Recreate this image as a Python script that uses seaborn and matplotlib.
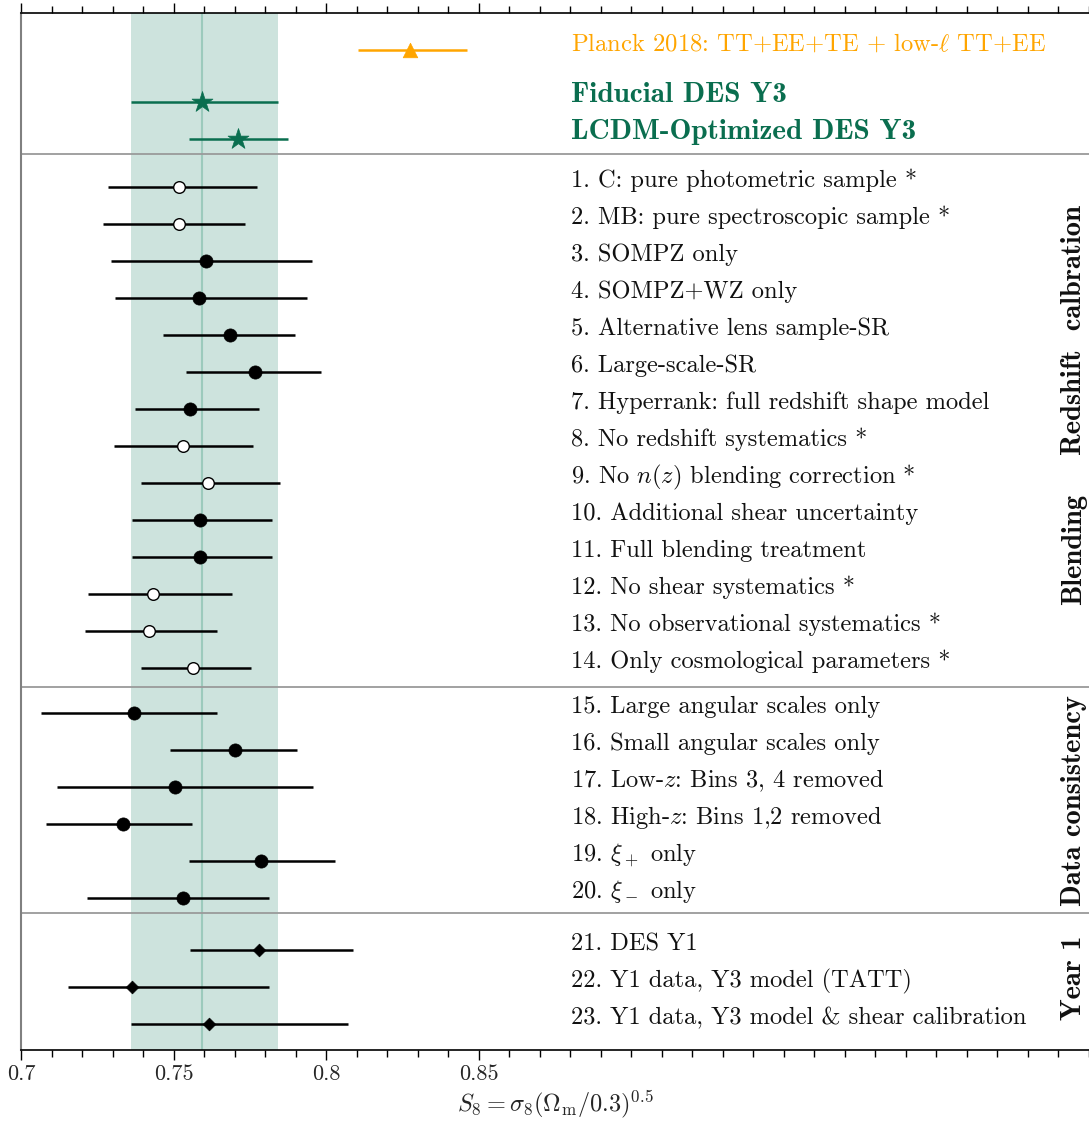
import numpy as np
import pandas as pd
import matplotlib
matplotlib.use('Agg')
import matplotlib.pyplot as plt
from matplotlib.ticker import MultipleLocator
import seaborn as sns

# --- data -------------------------------------------------------------
labels = [
    "1. C: pure photometric sample *",
    "2. MB: pure spectroscopic sample *",
    "3. SOMPZ only",
    "4. SOMPZ+WZ only",
    "5. Alternative lens sample-SR",
    "6. Large-scale-SR",
    "7. Hyperrank: full redshift shape model",
    "8. No redshift systematics *",
    "9. No $n(z)$ blending correction *",
    "10. Additional shear uncertainty",
    "11. Full blending treatment",
    "12. No shear systematics *",
    "13. No observational systematics *",
    "14. Only cosmological parameters *",
    "15. Large angular scales only",
    "16. Small angular scales only",
    "17. Low-$z$: Bins 3, 4 removed",
    "18. High-$z$: Bins 1,2 removed",
    "19. $\\xi_+$ only",
    "20. $\\xi_-$ only",
    "21. DES Y1",
    "22. Y1 data, Y3 model (TATT)",
    "23. Y1 data, Y3 model & shear calibration",
]
s8_mean = [0.7518, 0.7518, 0.7604, 0.7582, 0.7684, 0.7766, 0.7551, 0.7531,
           0.7613, 0.7585, 0.7585, 0.7432, 0.7418, 0.7564,
           0.7370, 0.7699, 0.7505, 0.7334, 0.7786, 0.7529,
           0.7780, 0.7361, 0.7615]
s8_low = [0.7283, 0.7268, 0.7292, 0.7307, 0.7464, 0.7541, 0.7372, 0.7304,
          0.7393, 0.7362, 0.7362, 0.7217, 0.7208, 0.7393,
          0.7063, 0.7486, 0.7116, 0.7080, 0.7549, 0.7216,
          0.7552, 0.7152, 0.7358]
s8_high = [0.7772, 0.7732, 0.7954, 0.7937, 0.7896, 0.7982, 0.7780, 0.7759,
           0.7849, 0.7820, 0.7820, 0.7691, 0.7641, 0.7751,
           0.7642, 0.7905, 0.7955, 0.7559, 0.8028, 0.7812,
           0.8088, 0.7812, 0.8069]
# open = run without some systematics (*), filled = normal, diamond = Y1
kinds = ["open", "open", "filled", "filled", "filled", "filled", "filled", "open",
         "open", "filled", "filled", "open", "open", "open",
         "filled", "filled", "filled", "filled", "filled", "filled",
         "diamond", "diamond", "diamond"]
group_names = ["Redshift  calbration", "Blending", "Data consistency", "Year 1"]
group_sizes = [14, 6, 3]

planck = {"label": "Planck 2018: TT+EE+TE + low-$\\ell$ TT+EE", "mean": 0.8273, "low": 0.8103, "high": 0.8460}
fiducial = {"label": "Fiducial DES Y3", "mean": 0.7593, "low": 0.7358, "high": 0.7841}
optimized = {"label": "LCDM-Optimized DES Y3", "mean": 0.7711, "low": 0.7550, "high": 0.7875}

tick_vals = [0.7, 0.75, 0.8, 0.85]
tick_labels = ["0.7", "0.75", "0.8", "0.85"]

# --- layout -----------------------------------------------------------
extra_gap = [0.216, 0.414]
row_y = []
y = 0.0
for g, n in enumerate(group_sizes):
    if g > 0:
        y += extra_gap[g - 1]
    for i in range(n):
        row_y.append(y)
        y += 1
row_y = np.array(row_y)
head_y = [-3.703, -2.308, -1.308]
sep_y = [-0.911, row_y[14] - 0.708, row_y[20] - 1.0]
group_label_y = [3.87, 9.79, 16.58, 21.36]

df = pd.DataFrame({"label": labels, "s8": s8_mean, "lo": s8_low, "hi": s8_high,
                   "kind": kinds, "y": row_y})

sns.set_theme(style="ticks")
plt.rcParams["font.family"] = ["cmr10", "DejaVu Serif"]
plt.rcParams["mathtext.fontset"] = "cm"
plt.rcParams["axes.unicode_minus"] = False
plt.rcParams["axes.formatter.use_mathtext"] = True

teal = "#0a6e4f"
orange = "#ffa500"
bold_family = ["cmb10", "DejaVu Serif"]

fig = plt.figure(figsize=(10.89, 11.21), dpi=100)
ax = fig.add_axes([0.0197, 0.0633, 0.9803, 0.9251])

# fiducial band
ax.axvspan(fiducial["low"], fiducial["high"], color="#cde3dd", lw=0, zorder=0)
ax.axvline(fiducial["mean"], color="#9ccabc", lw=1.5, zorder=0.5)

for sy in sep_y:
    ax.axhline(sy, color="#9a9a9a", lw=1.3, zorder=1)

# error bars for the variations
ax.errorbar(df["s8"], df["y"], xerr=[df["s8"] - df["lo"], df["hi"] - df["s8"]],
            fmt="none", ecolor="black", elinewidth=1.8, capsize=0, zorder=2)

sns.scatterplot(data=df[df["kind"] == "filled"], x="s8", y="y", marker="o", s=90,
                color="black", edgecolor="black", linewidth=0.5, ax=ax, zorder=3)
sns.scatterplot(data=df[df["kind"] == "open"], x="s8", y="y", marker="o", s=70,
                color="white", edgecolor="black", linewidth=1.0, ax=ax, zorder=3)
sns.scatterplot(data=df[df["kind"] == "diamond"], x="s8", y="y", marker="D", s=42,
                color="black", edgecolor="black", linewidth=0.5, ax=ax, zorder=3)

# header entries
for entry, yy, col, mk, sz in [(planck, head_y[0], orange, "^", 110),
                               (fiducial, head_y[1], teal, "*", 250),
                               (optimized, head_y[2], teal, "*", 250)]:
    ax.errorbar([entry["mean"]], [yy], xerr=[[entry["mean"] - entry["low"]], [entry["high"] - entry["mean"]]],
                fmt="none", ecolor=col, elinewidth=1.8, capsize=0, zorder=2)
    sns.scatterplot(x=[entry["mean"]], y=[yy], marker=mk, s=sz, color=col,
                    edgecolor=col, linewidth=0.5, ax=ax, zorder=3)

text_x = 0.8803
ax.text(text_x, head_y[0], planck["label"], color=orange, fontsize=17.7, va="baseline", ha="left")
ax.text(text_x, head_y[1], fiducial["label"], color=teal, fontsize=21, va="baseline", ha="left",
        family=bold_family)
ax.text(text_x, head_y[2], optimized["label"], color=teal, fontsize=21, va="baseline", ha="left",
        family=bold_family)

for lab, yy in zip(df["label"], df["y"]):
    ax.text(text_x, yy, lab, fontsize=17.6, va="baseline", ha="left", color="#111111")

for name, gy in zip(group_names, group_label_y):
    ax.text(1.0452, gy, name, rotation=90, fontsize=20.5, ha="center", va="center",
            family=bold_family, color="#111111")

# axes cosmetics
ax.set_xlim(0.7, 1.05)
ax.set_ylim(23.324, -4.714)
ax.set_yticks([])
ax.set_xticks(tick_vals)
ax.set_xticklabels(tick_labels)
ax.xaxis.set_minor_locator(MultipleLocator(0.01))
ax.tick_params(axis="x", which="both", top=True, bottom=True, direction="out",
               labelsize=16, color="black", width=1.0, pad=3)
ax.tick_params(axis="x", which="major", length=7.5)
ax.tick_params(axis="x", which="minor", length=5)
ax.set_xlabel(r"$S_8 = \sigma_8(\Omega_{\rm m}/0.3)^{0.5}$", fontsize=17.5)
ax.xaxis.label.set_va("top")
ax.xaxis.set_label_coords(0.5, -0.0365)
ax.set_ylabel("")
ax.spines["right"].set_visible(False)
ax.spines["left"].set_color("#808080")
ax.spines["left"].set_linewidth(1.5)
ax.spines["top"].set_linewidth(1.2)
ax.spines["bottom"].set_linewidth(1.2)
ax.spines["top"].set_color("black")
ax.spines["bottom"].set_color("black")

fig.savefig("out.png", dpi=100)
